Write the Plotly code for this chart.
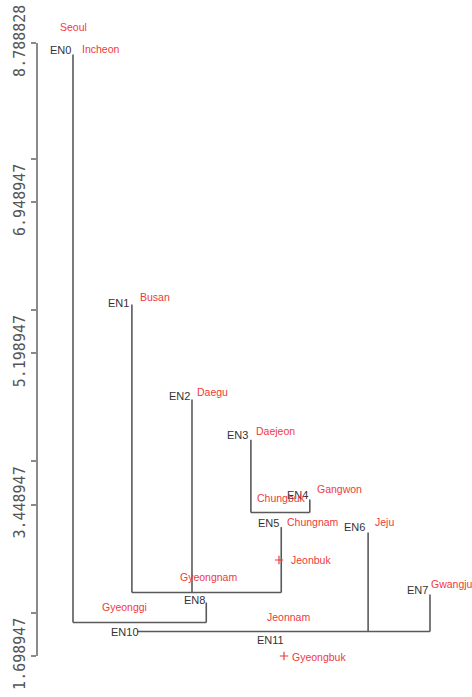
import plotly.graph_objects as go

# ---- data -------------------------------------------------------------
# Y axis ticks (dendrogram height scale)
tick_vals = [1.698947, 2.198947, 3.448947, 3.948947, 5.198947, 5.698947,
             6.948947, 7.448947, 8.788828]
tick_text = ["1.698947", "", "3.448947", "", "5.198947", "",
             "6.948947", "", "8.788828"]
y_min, y_max = 1.698947, 8.788828

# vertical branches: leaf-order position, top height, bottom height
branch_x = [0.0, 0.99, 2.0, 3.50, 2.99, 3.98, 2.24, 4.96, 6.0]
branch_top = [8.656, 5.764, 4.666, 3.19, 4.20, 3.51, 2.318, 3.127, 2.41]
branch_bot = [2.086, 2.433, 2.433, 2.433, 3.359, 3.359, 2.086, 1.982, 1.982]

# horizontal joins: height, from position, to position
join_h = [2.433, 3.359, 2.086, 1.982]
join_x0 = [0.99, 2.99, 0.0, 1.08]
join_x1 = [3.50, 3.98, 2.24, 6.0]

# internal node labels
node_ids = ["EN0", "EN1", "EN2", "EN3", "EN4", "EN5", "EN6", "EN7", "EN8",
            "EN10", "EN11"]
node_x = [0.0, 0.975, 2.0, 2.975, 3.983, 3.496, 4.941, 6.0, 2.252, 1.143, 3.58]
node_y = [8.708, 5.782, 4.706, 4.255, 3.561, 3.237, 3.191, 2.462, 2.347,
          1.977, 1.884]

# region (leaf) labels
region_names = ["Seoul", "Incheon", "Busan", "Daegu", "Daejeon", "Chungbuk",
                "Gangwon", "Chungnam", "Jeonbuk", "Jeju", "Gwangju",
                "Gyeongnam", "Gyeonggi", "Jeonnam", "Gyeongbuk"]
region_x = [-0.252, 0.118, 1.092, 2.050, 3.042, 3.059, 4.067, 3.563, 3.630,
            5.042, 5.99, 1.765, 0.454, 3.227, 3.647]
region_y = [8.974, 8.720, 5.851, 4.752, 4.301, 3.526, 3.631, 3.249, 2.809,
            3.249, 2.532, 2.613, 2.266, 2.150, 1.687]

# singleton leaves drawn with a cross marker
cross_names = ["Jeonbuk", "Gyeongbuk"]
cross_x = [3.462, 3.546]
cross_y = [2.809, 1.699]

# ---- figure -----------------------------------------------------------
LINE = "#5a5a5a"
RED = "#f03a3a"
DARK = "#333333"
FONT = "Liberation Sans, Arial, sans-serif"

lx, ly = [], []
for x, t, b in zip(branch_x, branch_top, branch_bot):
    lx += [x, x, None]
    ly += [t, b, None]
for h, a, b in zip(join_h, join_x0, join_x1):
    lx += [a, b, None]
    ly += [h, h, None]

fig = go.Figure()
fig.add_trace(go.Scatter(x=lx, y=ly, mode="lines",
                         line=dict(color=LINE, width=1.6),
                         hoverinfo="skip", showlegend=False, cliponaxis=False))
fig.add_trace(go.Scatter(x=cross_x, y=cross_y, mode="markers",
                         marker=dict(symbol="cross-thin", size=6,
                                     line=dict(color=RED, width=1.2)),
                         hoverinfo="skip", showlegend=False, cliponaxis=False))


def clamp(v):
    return min(max(v, y_min), y_max)


PX_PER_UNIT = 613 / (y_max - y_min)
annotations = []
for name, x, y in zip(node_ids, node_x, node_y):
    yc = clamp(y)
    annotations.append(dict(x=x, y=yc, text=name, showarrow=False,
                            xanchor="right", yanchor="middle",
                            yshift=(y - yc) * PX_PER_UNIT,
                            font=dict(family=FONT, size=11, color=DARK)))
for name, x, y in zip(region_names, region_x, region_y):
    yc = clamp(y)
    annotations.append(dict(x=x, y=yc, text=name, showarrow=False,
                            xanchor="left", yanchor="middle",
                            yshift=(y - yc) * PX_PER_UNIT,
                            font=dict(family=FONT, size=10.5, color=RED)))

fig.update_layout(
    width=472, height=697,
    template="none",
    paper_bgcolor="white", plot_bgcolor="white",
    margin=dict(l=38, r=0, t=43, b=41, autoexpand=False),
    showlegend=False,
    hovermode=False,
    annotations=annotations,
    xaxis=dict(range=[-0.588, 6.706], visible=False, fixedrange=True,
               automargin=False),
    yaxis=dict(range=[y_min, y_max], showgrid=False, zeroline=False,
               automargin=False, ticklabeloverflow="allow", fixedrange=True,
               showline=True, linecolor="#8a8a8a", linewidth=2,
               ticks="outside", ticklen=5, tickcolor="#8a8a8a", tickwidth=1.5,
               tickmode="array", tickvals=tick_vals, ticktext=tick_text,
               tickangle=-90,
               tickfont=dict(family="DejaVu Sans Mono", size=15,
                             color="#555555")),
)

# remove the default 8px page margin so the 472x697 figure fills the window
fig.write_html("out.html",
               config={"displayModeBar": False},
               post_script="document.body.style.margin='0';"
                           "document.body.style.overflow='hidden';")
